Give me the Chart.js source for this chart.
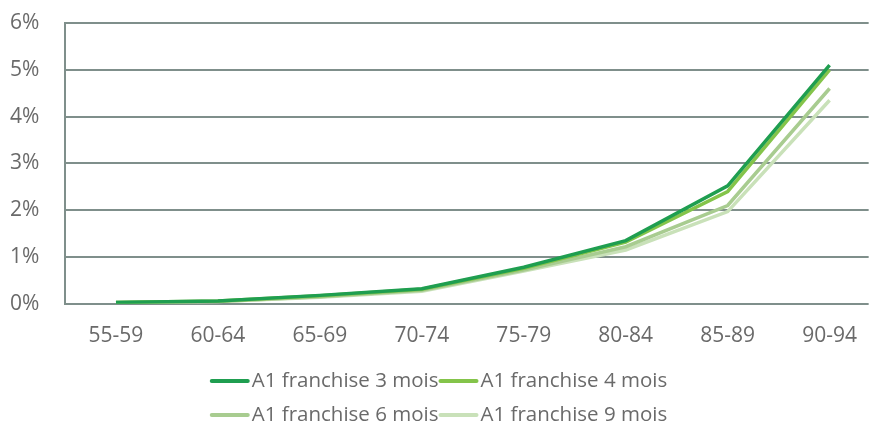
<!DOCTYPE html>
<html>
<head>
<meta charset="utf-8">
<script src="https://cdn.jsdelivr.net/npm/chart.js@4"></script>
<style>
    html, body { margin: 0; padding: 0; background: #fff; overflow: hidden; }
    #wrap { width: 877px; height: 442px; position: relative; }
</style>
</head>
<body>
<div id="wrap"><canvas id="tauxChart"></canvas></div>
<script>
// tranches d'âge
const categories = ["55-59", "60-64", "65-69", "70-74", "75-79", "80-84", "85-89", "90-94"];

// taux (en %) par franchise
const franchise3 = [0.03, 0.06, 0.18, 0.32, 0.78, 1.35, 2.52, 5.10];
const franchise4 = [0.03, 0.06, 0.17, 0.31, 0.76, 1.32, 2.40, 5.00];
const franchise6 = [0.03, 0.05, 0.15, 0.29, 0.72, 1.22, 2.10, 4.60];
const franchise9 = [0.02, 0.05, 0.14, 0.27, 0.70, 1.15, 1.97, 4.35];

const seriesLabels = ["A1 franchise 3 mois", "A1 franchise 4 mois", "A1 franchise 6 mois", "A1 franchise 9 mois"];
const seriesColors = ["#1f9e50", "#84c44a", "#a8cc90", "#c9e1b9"];

const yTicks = [0, 1, 2, 3, 4, 5, 6];

const gridColor = "#7f8f8b";
const textColor = "#6a6a6a";
const fontFamily = "'Open Sans', sans-serif";

function toPoints(arr) {
    return arr.map((v, i) => ({ x: i, y: v }));
}

// ------------------------------------------
// légende sur deux lignes, centrée sous le graphique
// ------------------------------------------
const legendDeuxLignes = {
    id: "legendDeuxLignes",
    afterDraw(chart) {
        const ctx = chart.ctx;
        const sets = chart.data.datasets;
        const rows = [[0, 1], [2, 3]];
        const rowY = [381, 415];
        const lineLen = 40;
        const gap = 2;

        ctx.save();
        ctx.font = "20.5px " + fontFamily;
        ctx.textBaseline = "middle";
        ctx.textAlign = "left";

        rows.forEach((row, r) => {
            const widths = row.map(i => lineLen + gap + ctx.measureText(sets[i].label).width);
            const total = widths.reduce((a, b) => a + b, 0);
            let x = chart.width / 2 - total / 2;
            const y = rowY[r];

            row.forEach((i, k) => {
                ctx.strokeStyle = sets[i].borderColor;
                ctx.lineWidth = 4;
                ctx.lineCap = "round";
                ctx.beginPath();
                ctx.moveTo(x + 2, y);
                ctx.lineTo(x + lineLen - 2, y);
                ctx.stroke();

                ctx.fillStyle = textColor;
                ctx.fillText(sets[i].label, x + lineLen + gap, y);
                x += widths[k];
            });
        });
        ctx.restore();
    }
};

const allSeries = [franchise3, franchise4, franchise6, franchise9];

new Chart(document.getElementById("tauxChart"), {
    type: "line",
    data: {
        datasets: allSeries.map((s, i) => ({
            label: seriesLabels[i],
            data: toPoints(s),
            borderColor: seriesColors[i],
            backgroundColor: seriesColors[i],
            borderWidth: 3.5,
            pointRadius: 0,
            tension: 0
        }))
    },
    options: {
        responsive: true,
        maintainAspectRatio: false,
        animation: false,
        layout: { padding: { top: 23, right: 0, bottom: 73, left: 10 } },
        plugins: {
            legend: { display: false },
            tooltip: { enabled: false }
        },
        scales: {
            x: {
                type: "linear",
                min: -0.5,
                max: 7.383,
                afterBuildTicks: s => { s.ticks = categories.map((_, i) => ({ value: i })); },
                grid: { display: false, drawTicks: false },
                border: { display: false },
                ticks: {
                    padding: 20,
                    color: textColor,
                    font: { family: fontFamily, size: 21 },
                    maxRotation: 0,
                    autoSkip: false,
                    callback: v => categories[v]
                }
            },
            y: {
                min: 0,
                max: 6,
                afterBuildTicks: s => { s.ticks = yTicks.map(v => ({ value: v })); },
                afterFit: s => { s.width = 55; },
                grid: { color: gridColor, lineWidth: 2, drawTicks: false },
                border: { display: true, color: gridColor, width: 2 },
                ticks: {
                    padding: 0,
                    crossAlign: "far",
                    color: textColor,
                    font: { family: fontFamily, size: 21 },
                    callback: v => v + "%"
                }
            }
        }
    },
    plugins: [legendDeuxLignes]
});
</script>
</body>
</html>
